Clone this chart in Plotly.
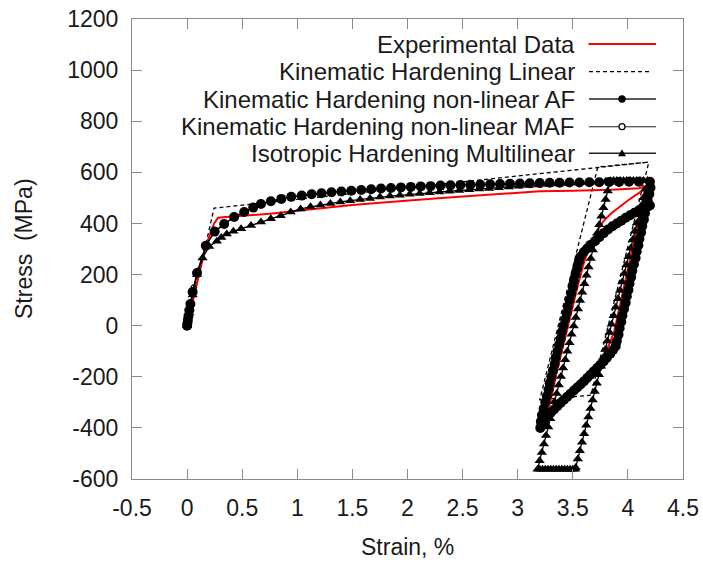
import plotly.graph_objects as go

# ---------------- data ----------------
exp_strain = [0, 0.05, 0.10, 0.17, 0.245, 0.28, 0.35, 0.50, 0.75, 1.00, 1.25, 1.50, 1.75,
              2.00, 2.25, 2.50, 2.75, 3.00, 3.20, 3.50, 3.85, 4.10, 4.16,
              4.12, 4.06, 4.00, 3.94, 3.88, 3.84, 3.78, 3.70, 3.58, 3.46, 3.36, 3.28, 3.245,
              3.27, 3.30, 3.35, 3.40, 3.45, 3.50, 3.55, 3.60, 3.65, 3.72, 3.78, 3.85, 3.92,
              4.00, 4.06, 4.12, 4.16]
exp_stress = [0, 95, 190, 313, 400, 422, 425, 430, 438, 450, 462, 472, 481,
              490, 498, 505, 512, 519, 526, 528, 532, 538, 545,
              460, 340, 220, 100, -15, -65, -115, -170, -230, -285, -330, -362, -377,
              -335, -290, -190, -100, -10, 80, 165, 245, 310, 370, 410, 440, 465,
              490, 508, 525, 545]

lin_strain = [0, 0.245, 4.19, 3.665, 3.20, 3.727, 4.19]
lin_stress = [0, 460, 640, -272, -290, 621, 640]

af_strain = [0, 0.003, 0.007, 0.012, 0.02, 0.03, 0.05, 0.09, 0.17, 0.25, 0.336, 0.427, 0.518,
             0.60, 0.67, 0.76, 0.855, 0.945, 1.04, 1.13, 1.22, 1.31, 1.40, 1.49, 1.58, 1.67,
             1.76, 1.85, 1.94, 2.03, 2.12, 2.21, 2.30, 2.39, 2.48, 2.57, 2.66, 2.75, 2.84,
             2.93, 3.02, 3.11, 3.20, 3.29, 3.38, 3.47, 3.56, 3.65, 3.74, 3.83, 3.92, 4.01,
             4.10, 4.20,
             4.205, 4.195, 4.18, 4.17, 4.155, 4.145, 4.13, 4.12, 4.105, 4.095, 4.08, 4.07,
             4.055, 4.04, 4.03, 4.015, 4.005, 3.99, 3.98, 3.965, 3.95, 3.94, 3.925, 3.915,
             3.90, 3.89,
             3.865, 3.84, 3.81, 3.78, 3.75, 3.72, 3.69, 3.66, 3.63, 3.60, 3.57, 3.54, 3.51,
             3.48, 3.45, 3.42, 3.39, 3.36, 3.33, 3.30, 3.27, 3.245, 3.225, 3.205,
             3.21, 3.22, 3.235, 3.25, 3.265, 3.28, 3.29, 3.305, 3.32, 3.335, 3.345, 3.36,
             3.375, 3.39, 3.40, 3.415, 3.43, 3.445, 3.455, 3.47, 3.485, 3.50, 3.51, 3.525,
             3.54, 3.555, 3.57,
             3.60, 3.63, 3.66, 3.70, 3.74, 3.78, 3.82, 3.86, 3.90, 3.94, 3.98, 4.02, 4.06,
             4.10, 4.14, 4.18, 4.20]
af_stress = [0, 10, 22, 38, 60, 85, 132, 206, 313, 368, 398, 425, 445,
             462, 476, 487, 496, 504, 509, 514, 518, 522, 525, 528, 531, 534,
             537, 539, 541, 543, 545, 546, 548, 549, 550, 551, 552, 553, 554,
             555, 556, 557, 558, 559, 559, 560, 560, 561, 561, 562, 562, 563,
             563, 563,
             540, 515, 490, 465, 440, 415, 390, 365, 340, 315, 290, 265,
             240, 215, 190, 165, 140, 115, 90, 65, 40, 15, -10, -35,
             -60, -80,
             -95, -110, -125, -140, -153, -166, -179, -192, -205, -218, -230, -242, -254,
             -266, -278, -290, -302, -315, -328, -341, -355, -370, -385, -400,
             -375, -350, -325, -300, -275, -250, -225, -200, -175, -150, -125, -100,
             -75, -50, -25, 0, 25, 50, 75, 100, 125, 150, 175, 200,
             225, 250, 270,
             288, 302, 316, 330, 346, 362, 376, 389, 400, 411, 422, 432, 442,
             451, 459, 466, 470]

maf_strain = [0, 0.01, 0.03, 0.06, 0.10, 0.17, 0.25, 0.34, 0.43, 0.52, 0.67, 0.85, 1.04,
              1.31, 1.58, 1.85, 2.12, 2.39, 2.66, 2.93, 3.20, 3.47, 3.74, 4.01, 4.20,
              4.18, 4.13, 4.08, 4.03, 3.98, 3.93, 3.89, 3.80, 3.70, 3.60, 3.50, 3.40,
              3.30, 3.22, 3.205, 3.23, 3.27, 3.31, 3.35, 3.39, 3.43, 3.47, 3.51, 3.55,
              3.60, 3.70, 3.80, 3.90, 4.00, 4.10, 4.20]
maf_stress = [0, 30, 85, 150, 215, 313, 368, 398, 425, 445, 476, 496, 509,
              522, 531, 539, 545, 549, 552, 555, 558, 560, 561, 563, 563,
              480, 390, 290, 195, 100, 5, -80, -128, -172, -218, -258, -298,
              -341, -390, -400, -325, -250, -175, -100, -35, 35, 105, 170, 240,
              288, 330, 368, 400, 427, 451, 470]

iso_strain = [0, 0.02, 0.05, 0.09, 0.14, 0.20, 0.27, 0.31, 0.36, 0.42, 0.49, 0.58, 0.67,
              0.76, 0.85, 0.94, 1.03, 1.12, 1.21, 1.30, 1.39, 1.48, 1.57, 1.66, 1.75,
              1.84, 1.93, 2.02, 2.11, 2.20, 2.29, 2.38, 2.47, 2.56, 2.65, 2.74, 2.83,
              2.92, 3.01, 3.10, 3.19, 3.28, 3.37, 3.46, 3.55, 3.64, 3.73, 3.80, 3.84,
              3.87, 3.90, 3.93, 3.96, 3.99, 4.02, 4.05, 4.08, 4.11, 4.14, 4.178,
              4.159, 4.140, 4.120, 4.101, 4.082, 4.063, 4.044, 4.025, 4.005, 3.986,
              3.967, 3.948, 3.929, 3.910, 3.890, 3.871, 3.852, 3.833, 3.814, 3.795,
              3.775, 3.756, 3.737, 3.718, 3.699, 3.680, 3.660, 3.641, 3.622, 3.603,
              3.584, 3.564, 3.545, 3.526, 3.522,
              3.50, 3.475, 3.45, 3.425, 3.40, 3.375, 3.35, 3.325, 3.30, 3.275, 3.25,
              3.225, 3.20, 3.18,
              3.199, 3.219, 3.238, 3.257, 3.277, 3.296, 3.315, 3.334, 3.354, 3.373,
              3.392, 3.412, 3.431, 3.450, 3.470, 3.489, 3.508, 3.527, 3.547, 3.566,
              3.585, 3.605, 3.624, 3.643, 3.663, 3.682, 3.701, 3.721, 3.740, 3.759,
              3.778, 3.798, 3.817, 3.836,
              3.87, 3.90, 3.93, 3.96, 3.99, 4.02, 4.05, 4.08, 4.11, 4.14, 4.178]
iso_stress = [0, 50, 120, 200, 265, 310, 330, 345, 359, 369, 379, 392, 406,
              418, 430, 445, 457, 465, 472, 478, 484, 489, 494, 498, 503,
              507, 510, 514, 517, 520, 523, 526, 529, 532, 535, 537, 540,
              543, 546, 548, 550, 552, 554, 556, 558, 560, 562, 565, 567,
              567, 567, 567, 567, 567, 567, 567, 567, 567, 567, 567,
              534, 501, 468, 435, 402, 369, 336, 303, 270, 237,
              204, 171, 138, 105, 72, 39, 6, -27, -60, -93,
              -126, -159, -192, -225, -258, -291, -324, -357, -390, -423,
              -456, -489, -522, -555, -562,
              -562, -562, -562, -562, -562, -562, -562, -562, -562, -562, -562,
              -562, -562, -562,
              -529, -496, -463, -430, -397, -364, -331, -298, -265, -232,
              -199, -166, -133, -100, -67, -34, -1, 32, 65, 98,
              131, 164, 197, 230, 263, 296, 329, 362, 395, 428,
              461, 494, 527, 560,
              567, 567, 567, 567, 567, 567, 567, 567, 567, 567, 567]

x_ticks = [-0.5, 0, 0.5, 1, 1.5, 2, 2.5, 3, 3.5, 4, 4.5]
x_tick_text = ["-0.5", "0", "0.5", "1", "1.5", "2", "2.5", "3", "3.5", "4", "4.5"]
y_ticks = [-600, -400, -200, 0, 200, 400, 600, 800, 1000, 1200]
y_tick_text = [str(v) for v in y_ticks]

legend_names = ["Experimental Data", "Kinematic Hardening Linear",
                "Kinematic Hardening non-linear AF", "Kinematic Hardening non-linear MAF",
                "Isotropic Hardening Multilinear"]

FONT = "Liberation Sans, Arial, sans-serif"
TXT = "#1a1a1a"

fig = go.Figure()

fig.add_trace(go.Scatter(x=lin_strain, y=lin_stress, mode="lines", name=legend_names[1],
                         line=dict(color="black", width=1.3, dash="4px,3px")))
fig.add_trace(go.Scatter(x=exp_strain, y=exp_stress, mode="lines", name=legend_names[0],
                         line=dict(color="#ff0000", width=2)))
fig.add_trace(go.Scatter(x=iso_strain, y=iso_stress, mode="lines+markers", name=legend_names[4],
                         line=dict(color="black", width=1.3),
                         marker=dict(symbol="triangle-up", size=9, color="black")))
fig.add_trace(go.Scatter(x=maf_strain, y=maf_stress, mode="lines+markers", name=legend_names[3],
                         line=dict(color="black", width=1),
                         marker=dict(symbol="circle-open", size=5, color="black",
                                     line=dict(width=1.2))))
fig.add_trace(go.Scatter(x=af_strain, y=af_stress, mode="lines+markers", name=legend_names[2],
                         line=dict(color="black", width=1.5),
                         marker=dict(symbol="circle", size=10, color="black")))

# ---------------- custom legend (text right, sample at right) ----------------
L, R, T, B = 132, 20, 19, 84
W, H = 703, 563
pw, ph = W - L - R, H - T - B


def px_x(px):
    return (px - L) / pw


def px_y(py):
    return (H - B - py) / ph


rows = [44, 71.7, 99, 126.7, 153.3]
annotations = []
shapes = []
for name, ry in zip(legend_names, rows):
    annotations.append(dict(text=name, x=px_x(577), y=px_y(ry), xref="paper", yref="paper",
                            xanchor="right", yanchor="middle", showarrow=False,
                            font=dict(family=FONT, size=24, color=TXT)))

# sample lines
shapes.append(dict(type="line", xref="paper", yref="paper", x0=px_x(588.5), x1=px_x(656),
                   y0=px_y(rows[0]), y1=px_y(rows[0]), line=dict(color="#ff0000", width=2)))
shapes.append(dict(type="line", xref="paper", yref="paper", x0=px_x(589), x1=px_x(652),
                   y0=px_y(rows[1]), y1=px_y(rows[1]),
                   line=dict(color="black", width=1.3, dash="4px,3px")))
for ry, w in zip(rows[2:], [1.6, 1.1, 1.4]):
    shapes.append(dict(type="line", xref="paper", yref="paper", x0=px_x(589), x1=px_x(656),
                       y0=px_y(ry), y1=px_y(ry), line=dict(color="#222", width=w)))
# sample markers
mx = px_x(622)
shapes.append(dict(type="circle", xref="paper", yref="paper", xsizemode="pixel",
                   ysizemode="pixel", xanchor=mx, yanchor=px_y(rows[2]),
                   x0=-3.7, x1=3.7, y0=-3.7, y1=3.7, fillcolor="black", line=dict(width=0)))
shapes.append(dict(type="circle", xref="paper", yref="paper", xsizemode="pixel",
                   ysizemode="pixel", xanchor=mx, yanchor=px_y(rows[3]),
                   x0=-3, x1=3, y0=-3, y1=3, fillcolor="white",
                   line=dict(color="black", width=1.2)))
shapes.append(dict(type="path", xref="paper", yref="paper", xsizemode="pixel",
                   ysizemode="pixel", xanchor=mx, yanchor=px_y(rows[4]),
                   path="M-4,-3 L4,-3 L0,4 Z", fillcolor="black", line=dict(width=0)))

# axis titles
annotations.append(dict(text="Strain, %", x=0.5, y=px_y(547), xref="paper", yref="paper",
                        xanchor="center", yanchor="middle", showarrow=False,
                        font=dict(family=FONT, size=23, color=TXT)))
annotations.append(dict(text="Stress\u00a0 (MPa)", x=px_x(24), y=0.5, xref="paper",
                        yref="paper", xanchor="center", yanchor="middle", showarrow=False,
                        textangle=-90, font=dict(family=FONT, size=23, color=TXT)))

axis_common = dict(showgrid=False, zeroline=False, showline=True, linecolor="#8a8a8a",
                   linewidth=1, mirror="ticks", ticks="inside", ticklen=10,
                   tickcolor="#8a8a8a", tickwidth=1, automargin=False,
                   tickfont=dict(family=FONT, size=23, color=TXT))

fig.update_layout(
    width=W, height=H,
    margin=dict(l=L, r=R, t=T, b=B, autoexpand=False),
    paper_bgcolor="white", plot_bgcolor="white",
    showlegend=False,
    xaxis=dict(range=[-0.5, 4.5], tickvals=x_ticks, ticktext=x_tick_text,
               ticklabelstandoff=8, **axis_common),
    yaxis=dict(range=[-600, 1200], tickvals=y_ticks, ticktext=y_tick_text,
               ticklabelstandoff=8, **axis_common),
    annotations=annotations,
    shapes=shapes,
)

fig.write_html("out.html", config={"displayModeBar": False},
               post_script="document.body.style.margin='0';document.body.style.padding='0';")
